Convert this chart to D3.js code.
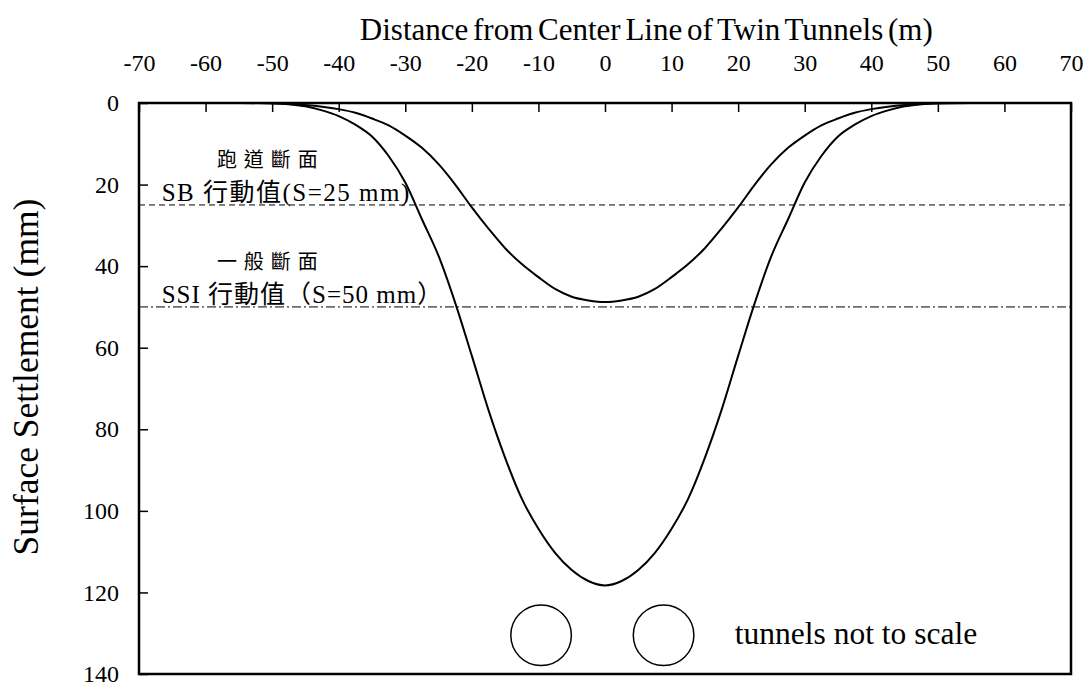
<!DOCTYPE html>
<html lang="zh-Hant">
<head>
    <meta charset="UTF-8">
    <title>Surface Settlement</title>
    <script src="https://d3js.org/d3.v7.min.js"></script>
    <style>
        body { margin: 0; background: #fff; }
        svg text { font-family: "Times New Roman", "Liberation Serif", "DejaVu Serif", "Noto Sans CJK TC", serif; fill: #000; }
    </style>
</head>
<body>
    <svg width="1090" height="688"></svg>
    <script>
        // distance from centre line (m)
        const xs = [-55, -50, -47.5, -45, -42.5, -40, -37.5, -35, -32.5, -30, -27.5, -25, -22.5, -20, -17.5, -15, -12.5, -10, -7.5, -5, -2.5, 0,
                    2.5, 5, 7.5, 10, 12.5, 15, 17.5, 20, 22.5, 25, 27.5, 30, 32.5, 35, 37.5, 40, 42.5, 45, 47.5, 50, 55];
        // settlement, twin tunnels general section (mm)
        const deepS = [0, 0, 0.3, 0.8, 1.8, 3.2, 5.3, 8.2, 13, 19.5, 28.5, 37.5, 49, 62, 75.3, 87, 97, 104.4, 110.3, 114.5, 117.2, 118.3,
                       117.2, 114.5, 110.3, 104.4, 97, 87, 75.3, 62, 49, 37.5, 28.5, 19.5, 13, 8.2, 5.3, 3.2, 1.8, 0.8, 0.3, 0, 0];
        // settlement, runway section (mm)
        const shallowS = [0, 0.1, 0.25, 0.5, 0.9, 1.5, 2.4, 3.8, 5.5, 8, 11, 15, 20, 25.6, 30.8, 35.6, 39.5, 42.7, 45.6, 47.5, 48.4, 48.8,
                          48.4, 47.5, 45.6, 42.7, 39.5, 35.6, 30.8, 25.6, 20, 15, 11, 8, 5.5, 3.8, 2.4, 1.5, 0.9, 0.5, 0.25, 0.1, 0];

        const xTicks = [-70, -60, -50, -40, -30, -20, -10, 0, 10, 20, 30, 40, 50, 60, 70];
        const yTicks = [0, 20, 40, 60, 80, 100, 120, 140];

        // limit lines (mm) and their notes
        const limits = [
            {value: 25, title: "跑道斷面", label: "SB 行動值(S=25 mm)", dash: "6,4", spacing: 1.5},
            {value: 50, title: "一般斷面", label: "SSI 行動值（S=50 mm）", dash: "9,3,2,3", spacing: 1}
        ];
        // tunnel centres (m), depth of centre (mm on this axis), radius (m)
        const tunnelX = [-9.6, 8.8];
        const tunnelDepth = 130.5;
        const tunnelR = 4.55;

        const width = 1090, height = 688;
        const margin = {top: 103, right: 19, bottom: 14, left: 139};
        const serif = "'Times New Roman', 'Liberation Serif', 'DejaVu Serif', 'Noto Sans CJK TC', serif";

        const svg = d3.select("svg");

        const x = d3.scaleLinear().domain([-70, 70]).range([margin.left, width - margin.right]);
        const y = d3.scaleLinear().domain([0, 140]).range([margin.top, height - margin.bottom]);

        // top axis, ticks pointing inwards
        svg.append("g")
            .attr("transform", `translate(0,${margin.top})`)
            .call(d3.axisTop(x).tickValues(xTicks).tickSize(-9).tickPadding(32).tickFormat(d => String(d)))
            .attr("font-family", serif)
            .attr("font-size", 24);

        svg.append("g")
            .attr("transform", `translate(${margin.left},0)`)
            .call(d3.axisLeft(y).tickValues(yTicks).tickSize(-9).tickPadding(20).tickFormat(d => String(d)))
            .attr("font-family", serif)
            .attr("font-size", 24);

        svg.selectAll(".domain").remove();
        svg.selectAll(".tick line").attr("stroke", "#000").attr("stroke-width", 1.5);

        // frame
        svg.append("rect")
            .attr("x", x(-70)).attr("y", y(0))
            .attr("width", x(70) - x(-70)).attr("height", y(140) - y(0))
            .attr("fill", "none").attr("stroke", "#000").attr("stroke-width", 2.5);

        // limit lines
        limits.forEach(d => {
            svg.append("line")
                .attr("x1", x(-70)).attr("x2", x(70))
                .attr("y1", y(d.value)).attr("y2", y(d.value))
                .attr("stroke", "#000").attr("stroke-width", 1)
                .attr("stroke-dasharray", d.dash);
            svg.append("text")
                .attr("x", x(-58.3)).attr("y", y(d.value) - 38)
                .style("font-size", "20px")
                .style("letter-spacing", "7px")
                .text(d.title);
            svg.append("text")
                .attr("x", x(-66.6)).attr("y", y(d.value) - 4)
                .style("font-size", "25px")
                .style("letter-spacing", d.spacing + "px")
                .text(d.label);
        });

        const line = d3.line()
            .x((d, i) => x(xs[i]))
            .y(d => y(d))
            .curve(d3.curveMonotoneX);

        [shallowS, deepS].forEach(s => {
            svg.append("path")
                .datum(s)
                .attr("fill", "none")
                .attr("stroke", "#000")
                .attr("stroke-width", 2)
                .attr("d", line);
        });

        // tunnels
        svg.selectAll("circle.tunnel")
            .data(tunnelX)
            .join("circle")
            .attr("class", "tunnel")
            .attr("cx", d => x(d))
            .attr("cy", y(tunnelDepth))
            .attr("r", x(tunnelR) - x(0))
            .attr("fill", "none")
            .attr("stroke", "#000")
            .attr("stroke-width", 1.5);

        svg.append("text")
            .attr("x", x(19.5)).attr("y", y(tunnelDepth) + 9)
            .style("font-size", "31.5px")
            .text("tunnels not to scale");

        // axis titles
        svg.append("text")
            .attr("x", x(6.2)).attr("y", 40)
            .attr("text-anchor", "middle")
            .style("font-size", "31px")
            .style("word-spacing", "-3px")
            .text("Distance from Center Line of Twin Tunnels (m)");

        svg.append("text")
            .attr("transform", `translate(38,377) rotate(-90)`)
            .attr("text-anchor", "middle")
            .style("font-size", "35.5px")
            .text("Surface Settlement (mm)");
    </script>
</body>
</html>
